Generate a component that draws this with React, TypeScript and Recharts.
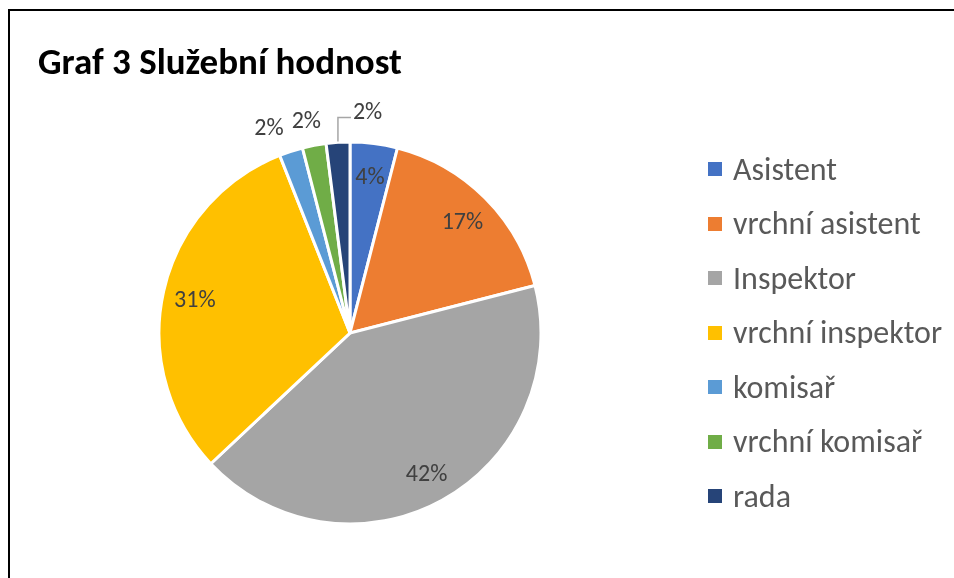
import React from "react"
import { PieChart, Pie, Cell, Legend } from "recharts"

const categories = [
  "Asistent",
  "vrchní asistent",
  "Inspektor",
  "vrchní inspektor",
  "komisař",
  "vrchní komisař",
  "rada",
]
const shares = [4, 17, 42, 31, 2, 2, 2]
const colors = ["#4472C4", "#ED7D31", "#A5A5A5", "#FFC000", "#5B9BD5", "#70AD47", "#264478"]

const data = categories.map((name, i) => ({ name, value: shares[i] }))

const FONT = "Calibri, Carlito, 'Liberation Sans', Arial, sans-serif"
const RAD = Math.PI / 180

function renderLabel(props: any) {
  const { cx, cy, midAngle, outerRadius, index, percent } = props
  const text = `${Math.round(percent * 100)}%`
  const style = { fontFamily: FONT, fontSize: 24, fill: "#404040" }
  const pt = (r: number) => ({
    x: cx + r * Math.cos(-midAngle * RAD),
    y: cy + r * Math.sin(-midAngle * RAD),
  })
  if (index < 4) {
    const p = pt(outerRadius - 32)
    return (
      <text x={p.x} y={p.y} textAnchor="middle" dominantBaseline="central" style={style}>
        {text}
      </text>
    )
  }
  if (index === 4 || index === 5) {
    const p = pt(outerRadius + 26)
    return (
      <text
        x={p.x + (index === 4 ? -14 : -3)}
        y={p.y}
        textAnchor="middle"
        dominantBaseline="central"
        style={style}
      >
        {text}
      </text>
    )
  }
  const p = pt(outerRadius + 1)
  const top = p.y - 24
  return (
    <g>
      <polyline
        points={`${p.x},${p.y} ${p.x},${top} ${p.x + 13},${top}`}
        fill="none"
        stroke="#A6A6A6"
        strokeWidth={1.5}
      />
      <text x={p.x + 15} y={top - 7} textAnchor="start" dominantBaseline="central" style={style}>
        {text}
      </text>
    </g>
  )
}

function LegendList() {
  return (
    <div style={{ fontFamily: FONT }}>
      {categories.map((name, i) => (
        <div
          key={name}
          style={{ height: 54.5, display: "flex", alignItems: "center", whiteSpace: "nowrap" }}
        >
          <span
            style={{ width: 14, height: 14, background: colors[i], display: "inline-block", marginRight: 11 }}
          />
          <span style={{ fontSize: 32, color: "#595959" }}>{name}</span>
        </div>
      ))}
    </div>
  )
}

export default function App() {
  return (
    <div style={{ position: "relative", width: 938, height: 562, background: "#fff" }}>
      <style>{"html,body{overflow:hidden;}"}</style>
      {/* chart frame: only top and left edges are visible in the crop */}
      <div
        style={{
          position: "fixed",
          left: 8,
          top: 9,
          right: 0,
          bottom: 0,
          borderTop: "2px solid #000",
          borderLeft: "2px solid #000",
        }}
      />
      <div
        style={{
          position: "absolute",
          left: 30,
          top: 35,
          fontFamily: FONT,
          fontWeight: "bold",
          fontSize: 37,
          lineHeight: "37px",
          color: "#000",
          whiteSpace: "nowrap",
        }}
      >
        Graf 3 Služební hodnost
      </div>
      <div style={{ position: "absolute", left: 0, top: 0 }}>
        <PieChart width={938} height={562}>
          <Pie
            data={data}
            dataKey="value"
            nameKey="name"
            cx={337}
            cy={320}
            outerRadius={191}
            startAngle={90}
            endAngle={-270}
            stroke="#fff"
            strokeWidth={3}
            label={renderLabel}
            labelLine={false}
            isAnimationActive={false}
          >
            {data.map((d, i) => (
              <Cell key={d.name} fill={colors[i]} />
            ))}
          </Pie>
          <Legend
            layout="vertical"
            content={<LegendList />}
            wrapperStyle={{ position: "absolute", left: 700, top: 134, width: 238 }}
          />
        </PieChart>
      </div>
    </div>
  )
}
